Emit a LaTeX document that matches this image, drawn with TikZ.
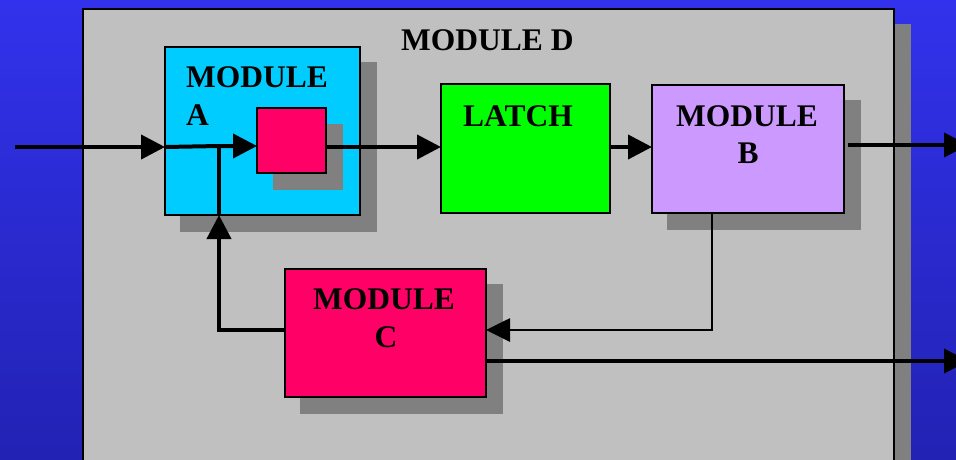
\documentclass[tikz,border=0pt]{standalone}
\usepackage{fontspec}
\setmainfont{Liberation Serif}
\usetikzlibrary{arrows.meta}
\definecolor{bgtop}{RGB}{50,50,236}
\definecolor{bgbot}{RGB}{34,34,180}
\definecolor{panel}{RGB}{192,192,192}
\definecolor{shadowgray}{RGB}{128,128,128}
\definecolor{cyanA}{RGB}{0,204,255}
\definecolor{pinkC}{RGB}{255,0,102}
\definecolor{latchg}{RGB}{0,255,0}
\definecolor{purpB}{RGB}{204,153,255}
\begin{document}
\begin{tikzpicture}[x=1pt,y=-1pt,
  box/.style={draw=black,line width=1.6pt,anchor=north west,inner sep=0pt,outer sep=0pt},
  dropshadow/.style={fill=shadowgray,draw=none},
  lbl/.style={anchor=base west,inner sep=0pt,font=\fontsize{31.5}{36}\selectfont\bfseries},
  clbl/.style={anchor=base,inner sep=0pt,font=\fontsize{31.5}{36}\selectfont\bfseries},
  heavy/.style={line width=4pt,-{Triangle[length=24pt,width=24pt]}},
  heavyline/.style={line width=4pt},
  light/.style={line width=2.8pt,-{Triangle[length=24pt,width=23pt]}}]
\useasboundingbox (0,0) rectangle (956,459);
\clip (0,0) rectangle (956,459);
\shade[top color=bgtop,bottom color=bgbot] (0,0) rectangle (956,459);
% module D
\fill[dropshadow] (894,24) rectangle (911,470);
\node[box,fill=panel,minimum width=811pt,minimum height=461pt] (D) at (83,9) {};
\node[lbl] (tD) at (401,50) {MODULE D};
% module A
\fill[dropshadow] (180,62) rectangle (377,232);
\node[box,fill=cyanA,minimum width=195pt,minimum height=168pt] (A) at (165,47) {};
\node[lbl] (tA1) at (186,87) {MODULE};
\node[lbl] (tA2) at (186,125) {A};
\fill[dropshadow] (273,124) rectangle (343,190);
\node[box,fill=pinkC,minimum width=69pt,minimum height=65pt] (sq) at (257,108) {};
% latch
\node[box,fill=latchg,minimum width=169pt,minimum height=129pt] (L) at (441,84) {};
\node[lbl] (tL) at (463,126) {LATCH};
% module B
\fill[dropshadow] (667,100) rectangle (861,230);
\node[box,fill=purpB,minimum width=192pt,minimum height=128pt] (B) at (652,85) {};
\node[lbl] (tB1) at (676,126) {MODULE};
\node[clbl] (tB2) at (748,163) {B};
% module C
\fill[dropshadow] (300,284) rectangle (503,414);
\node[box,fill=pinkC,minimum width=201pt,minimum height=128pt] (C) at (285,269) {};
\node[lbl] (tC1) at (313,309) {MODULE};
\node[clbl] (tC2) at (386,347) {C};
% connectors
\coordinate (in) at (15,147);
\coordinate (split) at (219,146);
\coordinate (bc) at (712,330);
\coordinate (ca) at (219,330);
\coordinate (outB) at (968,145);
\coordinate (outC) at (968,361);
\draw[heavy] (in) -- (in -| A.west);
\draw[heavy] (in -| A.west) -- (split) -- (split -| sq.west);
\draw[heavy] (sq.east |- in) -- (in -| L.west);
\draw[heavy] (L.east |- in) -- (in -| B.west);
\draw[heavy] ([xshift=4pt]B.east |- outB) -- (outB);
\draw[light] (B.south -| bc) -- (bc) -- (bc -| C.east);
\draw[heavy] (ca -| C.west) -- (ca) -- (ca |- A.south);
\draw[heavyline] (split) -- (split |- A.south);
\draw[heavy] (C.east |- outC) -- (outC);
\end{tikzpicture}
\end{document}
